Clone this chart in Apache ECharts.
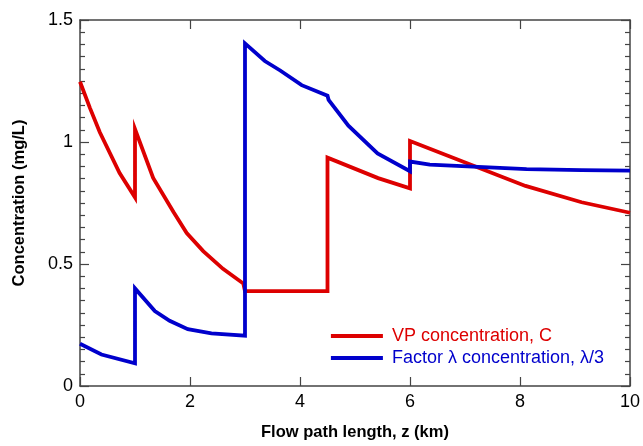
<!DOCTYPE html>
<html>
<head>
<meta charset="utf-8">
<script src="https://cdn.jsdelivr.net/npm/echarts@6/dist/echarts.min.js"></script>
<style>html,body{margin:0;padding:0;background:#fff}#c{width:643px;height:446px}</style>
</head>
<body>
<div id="c"></div>
<script>
var xTicks = [0, 2, 4, 6, 8, 10];
var yTicks = [0, 0.5, 1, 1.5];
var vpName = 'VP concentration, C';
var lamName = 'Factor \u03bb concentration, \u03bb/3';
var vpX = [0, 0.18, 0.36, 0.72, 1.0, 1.0, 1.33, 1.7, 1.94, 2.24, 2.6, 2.97, 3.0, 4.5, 4.5, 5.42, 6.0, 6.0, 8.1, 9.12, 10];
var vpY = [1.247, 1.14, 1.04, 0.873, 0.773, 1.053, 0.853, 0.713, 0.627, 0.553, 0.48, 0.42, 0.389, 0.389, 0.936, 0.852, 0.81, 1.004, 0.82, 0.753, 0.71];
var lamX = [0, 0.39, 1.0, 1.0, 1.36, 1.63, 1.96, 2.39, 3.0, 3.0, 3.36, 3.64, 4.03, 4.5, 4.52, 4.88, 5.41, 6.0, 6.0, 6.36, 8.12, 9.12, 10];
var lamY = [0.173, 0.129, 0.093, 0.4, 0.307, 0.267, 0.233, 0.216, 0.206, 1.404, 1.332, 1.293, 1.233, 1.19, 1.173, 1.067, 0.953, 0.88, 0.92, 0.907, 0.889, 0.885, 0.883];

function pairs(xs, ys) { return xs.map(function (x, i) { return [x, ys[i]]; }); }

var axisColor = '#444';
var font = 'Liberation Sans, Arial, sans-serif';
var chart = echarts.init(document.getElementById('c'));
var baseX = {
  type: 'value', min: 0, max: 10, interval: 2,
  axisLine: { show: true, onZero: false, lineStyle: { color: axisColor, width: 1.5 } },
  axisTick: { show: true, inside: true, length: 9, lineStyle: { color: axisColor, width: 1.2 } },
  splitLine: { show: false }
};
var baseY = {
  type: 'value', min: 0, max: 1.5, interval: 0.5,
  axisLine: { show: true, onZero: false, lineStyle: { color: axisColor, width: 1.5 } },
  axisTick: { show: true, inside: true, length: 9, lineStyle: { color: axisColor, width: 1.2 } },
  minorTick: { show: true, splitNumber: 10, length: 5, lineStyle: { color: axisColor, width: 1.2 } },
  splitLine: { show: false }
};
chart.setOption({
  animation: false,
  backgroundColor: '#fff',
  grid: { left: 80, right: 13, top: 20, bottom: 51, containLabel: false },
  xAxis: [
    Object.assign({}, baseX, {
      position: 'bottom',
      name: 'Flow path length, z (km)', nameLocation: 'middle', nameGap: 38,
      nameTextStyle: { fontFamily: font, fontSize: 16.5, fontWeight: 'bold', color: '#000' },
      axisLabel: { fontFamily: font, fontSize: 18, color: '#000', margin: 7 }
    }),
    Object.assign({}, baseX, { position: 'top', axisLabel: { show: false } })
  ],
  yAxis: [
    Object.assign({}, baseY, {
      position: 'left',
      name: 'Concentration (mg/L)', nameLocation: 'middle', nameGap: 52,
      nameTextStyle: { fontFamily: font, fontSize: 16.5, fontWeight: 'bold', color: '#000' },
      axisLabel: { fontFamily: font, fontSize: 18, color: '#000', margin: 7 }
    }),
    Object.assign({}, baseY, { position: 'right', axisLabel: { show: false } })
  ],
  legend: {
    right: 34, top: 322, orient: 'vertical',
    itemWidth: 52, itemHeight: 4, itemGap: 4, icon: 'rect',
    textStyle: { fontFamily: font, fontSize: 18, padding: [0, 0, 0, 4] },
    data: [
      { name: vpName, textStyle: { color: '#dd0000' } },
      { name: lamName, textStyle: { color: '#0000cc' } }
    ]
  },
  series: [
    { name: vpName, type: 'line', data: pairs(vpX, vpY), showSymbol: false, symbol: 'none',
      lineStyle: { color: '#dd0000', width: 3.8, join: 'miter' }, itemStyle: { color: '#dd0000' } },
    { name: lamName, type: 'line', data: pairs(lamX, lamY), showSymbol: false, symbol: 'none',
      lineStyle: { color: '#0000cc', width: 3.8, join: 'miter' }, itemStyle: { color: '#0000cc' } }
  ]
});
</script>
</body>
</html>
